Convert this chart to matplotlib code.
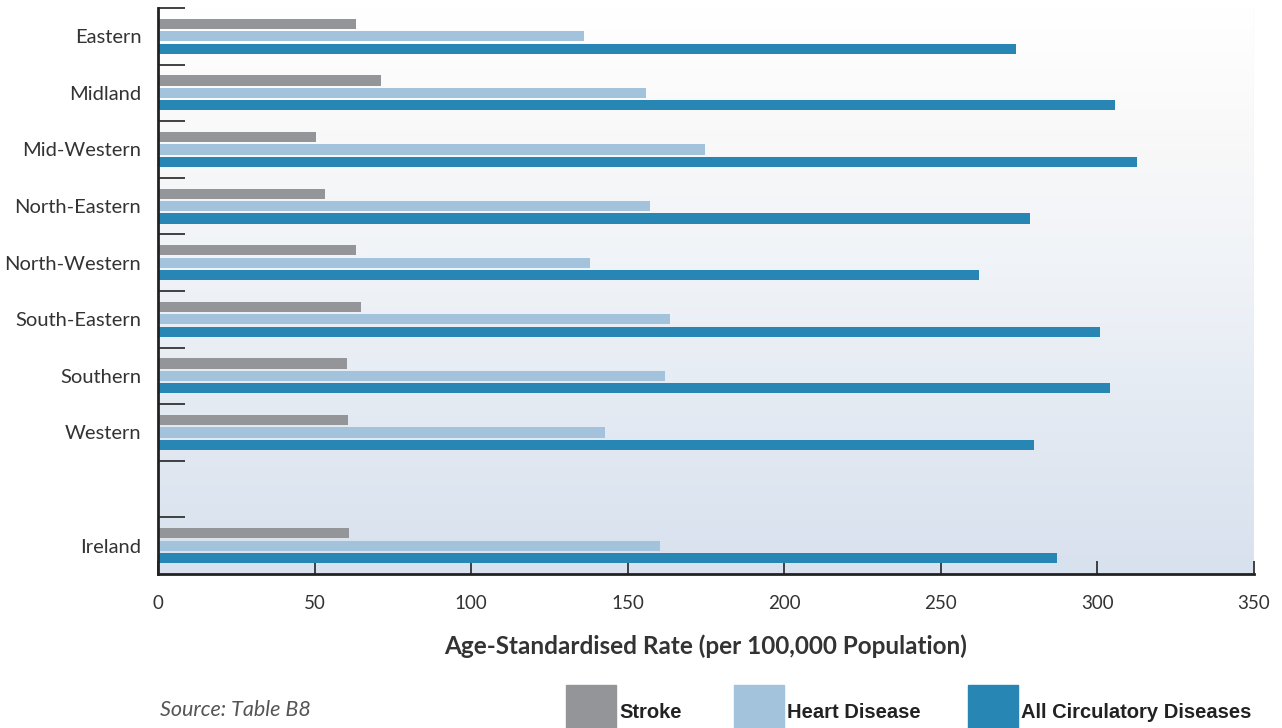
import numpy as np
import matplotlib
matplotlib.use("Agg")
from matplotlib import pyplot as plt
from matplotlib.colors import LinearSegmentedColormap
from matplotlib.patches import Rectangle

regions = ["Eastern", "Midland", "Mid-Western", "North-Eastern", "North-Western",
           "South-Eastern", "Southern", "Western", "", "Ireland"]
stroke = [63.2, 71.2, 50.5, 53.3, 63.2, 64.8, 60.4, 60.7, None, 61.0]
heart = [136.1, 155.9, 174.7, 157.1, 138.0, 163.5, 161.9, 142.8, None, 160.3]
circ = [274.0, 305.7, 312.7, 278.5, 262.2, 300.9, 304.1, 279.8, None, 287.1]
x_ticks = [0, 50, 100, 150, 200, 250, 300, 350]

c_stroke = "#939598"
c_heart = "#a3c2dc"
c_circ = "#2886b4"
txt = "#333333"

plt.rcParams["font.family"] = ["Lato", "DejaVu Sans"]

fig = plt.figure(figsize=(12.82, 7.28), dpi=100)
ax = fig.add_axes([158 / 1282, 1 - 574 / 728, 1096 / 1282, 566 / 728])

# background gradient
cmap = LinearSegmentedColormap.from_list(
    "bg", ["#ffffff", "#f8f8f9", "#eef2f7", "#e2e9f2", "#d8e1ee"])
grad = np.linspace(0, 1, 256).reshape(-1, 1)
ax.imshow(grad, extent=[0, 350, 9.5, -0.5], aspect="auto", cmap=cmap, zorder=0)

pos = np.arange(len(regions))
h = 0.18
off = 0.22
for vals, col, d in [(stroke, c_stroke, -off), (heart, c_heart, 0), (circ, c_circ, off)]:
    idx = [i for i, v in enumerate(vals) if v is not None]
    ax.barh(pos[idx] + d, [vals[i] for i in idx], height=h, color=col, zorder=2)

ax.set_xlim(0, 350)
ax.set_ylim(9.5, -0.5)
ax.set_yticks(pos)
ax.set_yticklabels(regions, fontsize=14.5, color=txt)
ax.set_yticks(np.arange(-0.5, 9, 1), minor=True)
ax.tick_params(axis="y", which="major", length=0, pad=12)
ax.tick_params(axis="y", which="minor", direction="in", length=19.5, width=1.3, color="#333333")
ax.set_xticks(x_ticks)
ax.tick_params(axis="x", direction="in", length=9.5, width=1.3, color="#333333",
               labelsize=13.5, labelcolor=txt, pad=15)

for s in ["top", "right"]:
    ax.spines[s].set_visible(False)
for s in ["left", "bottom"]:
    ax.spines[s].set_linewidth(2)
    ax.spines[s].set_color("#222222")
ax.axvline(350, color="#e8edf3", lw=1, zorder=1)

ax.set_xlabel("Age-Standardised Rate (per 100,000 Population)", fontsize=17.5,
              fontweight="bold", color=txt, labelpad=16)

fig.text(160 / 1282, 1 - 710 / 728, "Source: Table B8", fontsize=15.5, style="italic",
         color="#555555", va="center")

legend = [("Stroke", c_stroke, 566), ("Heart Disease", c_heart, 734),
          ("All Circulatory Diseases", c_circ, 968)]
for lab, col, px in legend:
    fig.add_artist(Rectangle((px / 1282, 0), 50 / 1282, 43 / 728, color=col,
                             transform=fig.transFigure))
    fig.text((px + 53) / 1282, 1 - 712 / 728, lab, fontsize=14.5, fontweight="bold",
             family=["Liberation Sans", "DejaVu Sans"], color="#222222", va="center")

plt.savefig("out.png", dpi=100)
